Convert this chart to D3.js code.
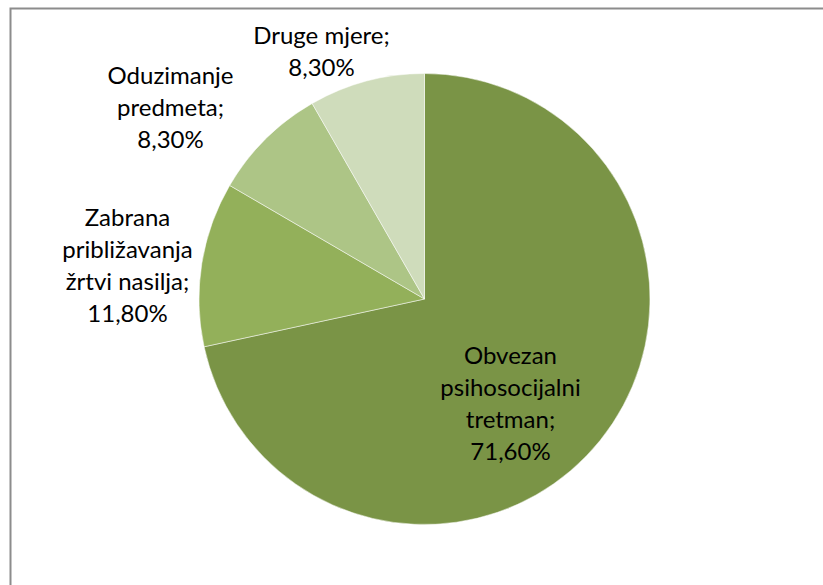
<!DOCTYPE html>
<html><head><meta charset="utf-8">
<script src="https://cdn.jsdelivr.net/npm/d3@7"></script>
<style>body{margin:0;background:#fff}svg{display:block}</style>
</head><body>
<script>
const categories = ["Obvezan psihosocijalni tretman", "Zabrana približavanja žrtvi nasilja", "Oduzimanje predmeta", "Druge mjere"];
const values = [71.6, 11.8, 8.3, 8.3];
const valueLabels = ["71,60%", "11,80%", "8,30%", "8,30%"];
const labelLines = [
  ["Obvezan", "psihosocijalni", "tretman;", "71,60%"],
  ["Zabrana", "približavanja", "žrtvi nasilja;", "11,80%"],
  ["Oduzimanje", "predmeta;", "8,30%"],
  ["Druge mjere;", "8,30%"]
];
const colors = ["#7a9446", "#93b05a", "#adc586", "#cfdcbb"];

const W = 823, H = 585;
const svg = d3.select("body").append("svg").attr("width", W).attr("height", H);
svg.append("rect").attr("x", 10.5).attr("y", 8.5).attr("width", W).attr("height", H)
  .attr("fill", "none").attr("stroke", "#8c8c8c").attr("stroke-width", 2);

const cx = 424.5, cy = 299, R = 225.5;
const g = svg.append("g").attr("transform", `translate(${cx},${cy})`);
const pie = d3.pie().sort(null).value(d => d)(values);
const arc = d3.arc().innerRadius(0).outerRadius(R);
g.selectAll("path").data(pie).join("path")
  .attr("d", arc).attr("fill", (d, i) => colors[i])
  .attr("stroke", "#ffffff").attr("stroke-width", 0.5);

// label anchor positions (centers of label blocks) relative to pie center
const labelPos = [[86, 105], [-297, -33], [-254, -191], [-103, -247]];
const lineH = 32;
labelLines.forEach((lines, i) => {
  const [lx, ly] = labelPos[i];
  const t = g.append("text").attr("text-anchor", "middle")
    .attr("font-family", "Lato, 'Liberation Sans', sans-serif")
    .attr("font-size", 24).attr("fill", "#000");
  const n = lines.length;
  lines.forEach((s, j) => {
    t.append("tspan").attr("x", lx).attr("y", ly + (j - (n - 1) / 2) * lineH).attr("dy", "0.35em").text(s);
  });
});
</script>
</body></html>
